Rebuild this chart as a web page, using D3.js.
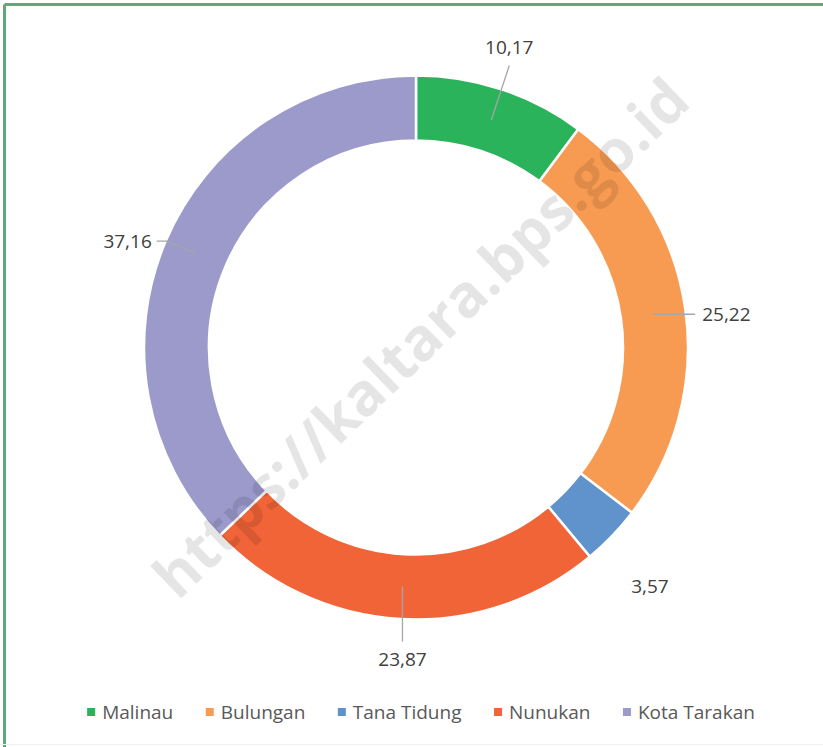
<!DOCTYPE html>
<html>
<head>
<meta charset="utf-8">
<script src="https://cdn.jsdelivr.net/npm/d3@7"></script>
<style>
  body { margin: 0; background: #fff; }
  svg { display: block; }
  text { font-family: "Open Sans", sans-serif; }
</style>
</head>
<body>
<div class="chart"></div>
<script>
var regions = ["Malinau", "Bulungan", "Tana Tidung", "Nunukan", "Kota Tarakan"];
var shares = [10.17, 25.22, 3.57, 23.87, 37.16];
var shareLabels = ["10,17", "25,22", "3,57", "23,87", "37,16"];
var colors = ["#2ab35b", "#f89b52", "#6092cc", "#f06438", "#9b9acb"];

// how each data label is placed (Excel style best fit)
var labelStyle = ["radialUp", "right", "free", "down", "elbowLeft"];

var w = 823, h = 747;
var cx = 416, cy = 347.5;
var outerR = 272, innerR = 207;

var svg = d3.select("div.chart")
            .append("svg")
            .attr("width", w)
            .attr("height", h);

// frame, only top and left edges show
svg.append("line")
    .attr("x1", 4.5).attr("y1", 4.5).attr("x2", w).attr("y2", 4.5)
    .attr("stroke", "#5fa87a").attr("stroke-width", 3);
svg.append("line")
    .attr("x1", 4.5).attr("y1", 4.5).attr("x2", 4.5).attr("y2", h)
    .attr("stroke", "#5fa87a").attr("stroke-width", 3);
svg.append("line")
    .attr("x1", 0).attr("y1", h - 2.5).attr("x2", w).attr("y2", h - 2.5)
    .attr("stroke", "#f2f2f2").attr("stroke-width", 1);

var pie = d3.pie().sort(null).value(d => d);
var arcs = pie(shares);

var arc = d3.arc().innerRadius(innerR).outerRadius(outerR);

var g = svg.append("g").attr("transform", `translate(${cx},${cy})`);

g.selectAll(".slice")
    .data(arcs)
    .enter()
    .append("path")
        .attr("class", "slice")
        .attr("d", arc)
        .attr("fill", (d, i) => colors[i])
        .attr("stroke", "#fff")
        .attr("stroke-width", 2.5);

function polar(r, a) {
    return [r * Math.sin(a), -r * Math.cos(a)];
}

var lineColor = "#a6a6a6";
var labelColor = "#404040";

arcs.forEach(function(d, i){
    var mid = (d.startAngle + d.endAngle) / 2;
    var c = arc.centroid(d);
    var style = labelStyle[i];
    var pts, tx, ty, anchor = "middle";

    if (style == "radialUp") {
        var e = polar(297, mid);
        pts = [c, e];
        tx = e[0]; ty = e[1] - 18;
    } else if (style == "right") {
        var e = [c[0] + 42, c[1]];
        pts = [c, e];
        tx = e[0] + 7; ty = e[1]; anchor = "start";
    } else if (style == "down") {
        var e = [c[0], c[1] + 55];
        pts = [c, e];
        tx = e[0]; ty = e[1] + 18;
    } else if (style == "elbowLeft") {
        var k = polar(outerR - 1, mid);
        var e = [k[0] - 10, k[1]];
        pts = [c, k, e];
        tx = e[0] - 5; ty = e[1]; anchor = "end";
    } else {
        var e = polar(334, mid);
        pts = null;
        tx = e[0] - 7; ty = e[1] + 7;
    }

    if (pts) {
        g.append("path")
            .attr("d", d3.line()(pts))
            .attr("fill", "none")
            .attr("stroke", lineColor)
            .attr("stroke-width", 1.3);
    }

    g.append("text")
        .attr("x", tx)
        .attr("y", ty)
        .attr("dy", "0.35em")
        .attr("text-anchor", anchor)
        .attr("font-size", 19)
        .attr("fill", labelColor)
        .text(shareLabels[i]);
});

// legend
var legend = svg.append("g").attr("class", "legend");
var items = legend.selectAll(".item")
                .data(regions)
                .enter()
                .append("g")
                .attr("class", "item");

items.append("rect")
    .attr("width", 8)
    .attr("height", 8)
    .attr("y", -4)
    .attr("fill", (d, i) => colors[i]);

items.append("text")
    .attr("x", 15)
    .attr("dy", "0.35em")
    .attr("font-size", 19)
    .attr("fill", "#595959")
    .text(d => d);

var widths = [];
items.selectAll("text").each(function(){ widths.push(15 + this.getComputedTextLength()); });
var gap = 32.5;
var total = d3.sum(widths) + gap * (widths.length - 1);
var x0 = 421 - total / 2;
items.attr("transform", function(d, i){
    var x = x0 + d3.sum(widths.slice(0, i)) + gap * i;
    return `translate(${x},712)`;
});

// watermark
svg.append("text")
    .attr("transform", "translate(421,338) rotate(-44)")
    .attr("text-anchor", "middle")
    .attr("dy", "0.35em")
    .attr("font-family", "'Liberation Sans', Arial, sans-serif")
    .attr("font-weight", "bold")
    .attr("font-size", 59)
    .attr("fill", "#000")
    .attr("fill-opacity", 0.1)
    .text("https://kaltara.bps.go.id");
</script>
</body>
</html>
